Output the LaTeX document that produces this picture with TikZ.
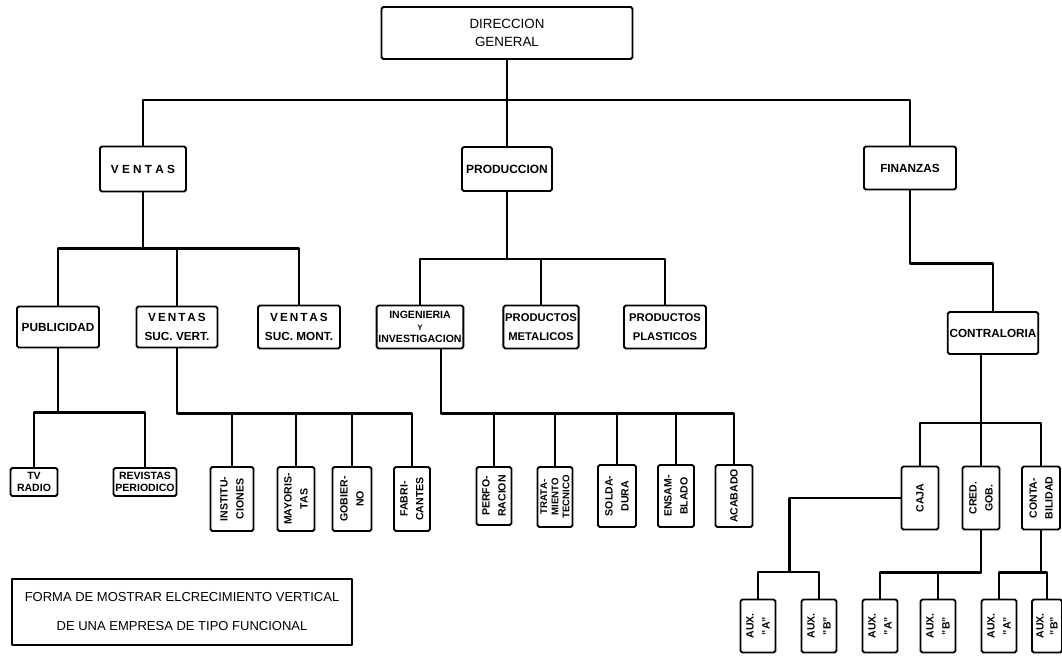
\documentclass[tikz,border=0pt]{standalone}
\usepackage{fontspec}
\setmainfont{Liberation Sans}
\usetikzlibrary{positioning}

\begin{document}
\begin{tikzpicture}[x=0.02cm, y=-0.02cm, line join=round, line cap=round,
  box/.style={draw, line width=1.1pt, rounded corners=1pt, align=center, inner sep=1pt,
    font=\bfseries\fontsize{6.7}{10.5}\selectfont},
  vbox/.style={box, rotate=90, font=\bfseries\fontsize{6}{9}\selectfont},
  capbox/.style={draw, line width=1pt, align=center, font=\fontsize{7.4}{16.5}\selectfont},
  sz/.style 2 args={minimum width=#1*0.02cm, minimum height=#2*0.02cm},
  vsz/.style 2 args={minimum width=#2*0.02cm, minimum height=#1*0.02cm},
  link/.style={line width=1.2pt}]

\useasboundingbox (0,0) rectangle (1062,657);
\clip (0,0) rectangle (1062,657);

% first levels
\node[box, sz={251}{52}, font=\fontsize{7.6}{10.5}\selectfont] (dir) at (507,33) {DIRECCION\\GENERAL};
\node[box, sz={86}{45}] (ventas) at (143,169) {V E N T A S};
\node[box, sz={90}{44}, font=\bfseries\fontsize{6.8}{8}\selectfont] (prod) at (507,169) {PRODUCCION};
\node[box, sz={92}{43}] (fin) at (910,168) {FINANZAS};

\node[box, sz={82}{41}] (pub) at (58,327) {PUBLICIDAD};
\node[box, sz={81}{41}] (vsv) at (177,327) {V\,E\,N\,T\,A\,S\\SUC. VERT.};
\node[box, sz={82}{43}] (vsm) at (299,327) {V\,E\,N\,T\,A\,S\\SUC. MONT.};
\node[box, sz={84}{43}, font=\bfseries\fontsize{6}{6.8}\selectfont] (ing) at (420,327)
  {INGENIERIA\\{\fontsize{4.5}{5}\selectfont Y}\\INVESTIGACION};
\node[box, sz={75}{43}, font=\bfseries\fontsize{6.4}{10.5}\selectfont] (pm) at (541,327) {PRODUCTOS\\METALICOS};
\node[box, sz={82}{43}, font=\bfseries\fontsize{6.4}{10.5}\selectfont] (pp) at (665,327) {PRODUCTOS\\PLASTICOS};
\node[box, sz={90}{42}] (contra) at (993,333) {CONTRALORIA};

% ventas
\node[box, sz={47}{28}, font=\bfseries\fontsize{6}{7}\selectfont] (tv) at (34,482) {TV\\RADIO};
\node[box, sz={63}{28}, font=\bfseries\fontsize{6}{7}\selectfont] (rev) at (145,482) {REVISTAS\\PERIODICO};
\node[vbox, vsz={43}{64}] (inst) at (232,499) {INSTITU-\\CIONES};
\node[vbox, vsz={37}{64}] (may) at (296,499) {MAYORIS-\\TAS};
\node[vbox, vsz={39}{64}] (gob) at (352,499) {GOBIER-\\NO};
\node[vbox, vsz={36}{64}] (fab) at (412,499) {FABRI-\\CANTES};

% produccion
\node[vbox, vsz={35}{58}] (perf) at (494,496) {PERFO-\\RACION};
\node[vbox, vsz={35}{60}, font=\bfseries\fontsize{5.5}{6.3}\selectfont] (trat) at (555,497) {TRATA-\\MIENTO\\TECNICO};
\node[vbox, vsz={38}{62}] (sold) at (617,496) {SOLDA-\\DURA};
\node[vbox, vsz={36}{62}] (ens) at (676,496) {ENSAM-\\BLADO};
\node[vbox, vsz={37}{62}] (acab) at (734,496) {ACABADO};

% finanzas
\node[vbox, vsz={37}{63}] (caja) at (920,498) {CAJA};
\node[vbox, vsz={37}{63}] (cred) at (981,498) {CRED.\\GOB.};
\node[vbox, vsz={38}{63}] (conta) at (1041,498) {CONTA-\\BILIDAD};
\foreach \n/\x/\t in {a1/758/A, b1/819/B, a2/880/A, b2/938/B, a3/999/A}
  \node[vbox, vsz={35}{53}] (aux\n) at (\x,626) {AUX.\\"\t"};
\node[vbox, vsz={30}{53}, font=\bfseries\fontsize{6}{8}\selectfont] (auxb3) at (1047,626) {AUX.\\"B"};

\node[capbox, sz={340}{66}] (cap) at (182,612)
  {FORMA DE MOSTRAR ELCRECIMIENTO VERTICAL\\DE UNA EMPRESA DE TIPO FUNCIONAL};

% connectors
\coordinate (top) at (507,100);
\draw[link] (dir.south) -- (prod.north);
\draw[link] (ventas.north) |- (top) -| (fin.north);

\draw[link] (ventas.south) -- ++(0,56) coordinate (vb);
\draw[link] (pub.north) |- (vb) -| (vsm.north);
\draw[link] (vsv.north) -- (vsv.north |- vb);

\draw[link] (prod.south) -- ++(0,67) coordinate (pb);
\draw[link] (ing.north) |- (pb) -| (pp.north);
\draw[link] (pm.north) -- (pm.north |- pb);

\draw[link] (fin.south) -- ++(0,73) -| (contra.north);

\draw[link] (pub.south) -- ++(0,64) coordinate (pub1);
\draw[link] (tv.north) |- (pub1) -| (rev.north);
\draw[link] (vsv.south) -- ++(0,65) coordinate (vsv1) -| (fab.east);
\foreach \k in {inst, may, gob}
  \draw[link] (\k.east) -- (\k.east |- vsv1);

\draw[link] ([xshift=0.42cm]ing.south) -- ++(0,64) coordinate (ing1) -| (acab.east);
\foreach \k in {perf, trat, sold, ens}
  \draw[link] (\k.east) -- (\k.east |- ing1);

\coordinate (cb) at (981,423);
\draw[link] (contra.south -| cred.east) -- (cred.east);
\draw[link] (caja.east) |- (cb) -| (conta.east);

\draw[link] (caja.north) -- ++(-111,0) -- ++(0,74) coordinate (cj1);
\draw[link] (auxa1.east) |- (cj1) -| (auxb1.east);
\draw[link] (cred.west) -- ++(0,42) coordinate (cr1);
\draw[link] (auxa2.east) |- (cr1);
\draw[link] (auxb2.east) -- (auxb2.east |- cr1);
\draw[link] (conta.west) -- ++(0,42) coordinate (ct1);
\draw[link] (auxa3.east) |- (ct1) -| (auxb3.east);

\end{tikzpicture}
\end{document}
